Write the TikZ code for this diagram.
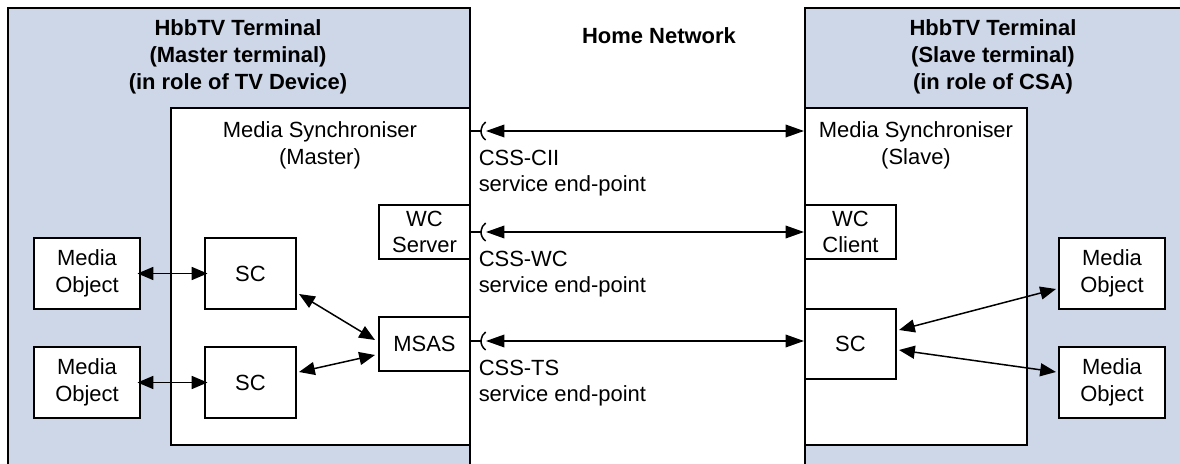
\documentclass[tikz,border=0pt]{standalone}
\usepackage{fontspec}
\setmainfont{Liberation Sans}
\usepackage{tikz}
\usetikzlibrary{calc, positioning, arrows.meta}

\definecolor{termblue}{RGB}{206,215,232}
\newcommand{\dfont}{\fontsize{12.5}{15.2}\selectfont}

\begin{document}
\begin{tikzpicture}[
    x=0.2mm, y=-0.2mm,
    line width=0.3mm,
    font=\dfont
]
    \useasboundingbox (0,0) rectangle (1180,464);

    % Styles: terminals, synchronisers, small blocks
    \tikzset{
        terminal/.style={draw, fill=termblue, line width=0.4mm, inner sep=0pt},
        msync/.style={draw, fill=white, line width=0.4mm, inner sep=0pt},
        block/.style={draw, fill=white, line width=0.4mm, inner sep=0pt, align=center},
        title/.style={font=\dfont\bfseries, align=center},
        biarrow/.style={{Triangle[length=9pt, width=7.4pt]}-{Triangle[length=9pt, width=7.4pt]}},
        netarrow/.style={{Triangle[length=10.5pt, width=7.2pt]}-{Triangle[length=10.5pt, width=7.2pt]}}
    }

    % HbbTV terminals (they run past the page edge)
    \node[terminal, minimum width=92.4mm, minimum height=94.4mm] (TermM) at (239,244) {};
    \node[terminal, minimum width=77mm, minimum height=94.4mm] (TermS) at (997.5,244) {};

    \node[title] (TermM_t) at (238,57) {HbbTV Terminal\\(Master terminal)\\(in role of TV Device)};
    \node[title] (TermS_t) at (993,57) {HbbTV Terminal\\(Slave terminal)\\(in role of CSA)};
    \node[title] (HomeNet) at (659,36) {Home Network};

    % Media Synchronisers
    \node[msync, minimum width=59.8mm, minimum height=67.4mm] (MSM) at (320.5,276.5) {};
    \node[msync, minimum width=44.4mm, minimum height=67.4mm] (MSS) at (916,276.5) {};
    \node[align=center] (MSM_l) at (320,145) {Media Synchroniser\\(Master)};
    \node[align=center] (MSS_l) at (916,145) {Media Synchroniser\\(Slave)};

    % Master side blocks
    \node[block, minimum width=18.2mm, minimum height=10.8mm] (WCS) at (424.5,232) {WC\\Server};
    \node[block, minimum width=18.2mm, minimum height=10.8mm] (MSAS) at (424.5,344) {MSAS};
    \node[block, minimum width=18.2mm, minimum height=14.2mm] (SC_M1) at (250.5,273.5) {SC};
    \node[block, minimum width=18.2mm, minimum height=14.2mm] (SC_M2) at (250.5,382.5) {SC};
    \node[block, minimum width=21.2mm, minimum height=14.2mm] (MO_M1) at (87,273.5) {Media\\Object};
    \node[block, minimum width=21.2mm, minimum height=14.2mm] (MO_M2) at (87,382.5) {Media\\Object};

    % Slave side blocks
    \node[block, minimum width=18.2mm, minimum height=10.8mm] (WCC) at (850.5,232) {WC\\Client};
    \node[block, minimum width=18.2mm, minimum height=14mm] (SC_S) at (850.5,344) {SC};
    \node[block, minimum width=21.2mm, minimum height=14.2mm] (MO_S1) at (1112,273.5) {Media\\Object};
    \node[block, minimum width=21.2mm, minimum height=14.2mm] (MO_S2) at (1112,382.5) {Media\\Object};

    % Wiring inside the master
    \draw[biarrow] ([xshift=-2]MO_M1.east) -- ([xshift=2]SC_M1.west);
    \draw[biarrow] ([xshift=-2]MO_M2.east) -- ([xshift=2]SC_M2.west);
    \draw[biarrow] ($(SC_M1.south east)+(2,-16)$) -- ($(MSAS.west)+(-3,-4)$);
    \draw[biarrow] ($(SC_M2.east)+(2,-10.5)$) -- ($(MSAS.west)+(-3,11)$);

    % Wiring inside the slave
    \draw[biarrow] ($(SC_S.east)+(2,-14)$) -- ($(MO_S1.west)+(-2,15.5)$);
    \draw[biarrow] ($(SC_S.east)+(2,6)$) -- ($(MO_S2.west)+(-2,-10.5)$);

    % Service end-points on the home network
    \coordinate (CII) at ($(MSM.north east)+(0,24)$);
    \coordinate (WC) at (WCS.east);
    \coordinate (TS) at ($(MSAS.east)+(0,-3)$);

    \foreach \c/\t in {CII/CSS-CII, WC/CSS-WC, TS/CSS-TS}{
        \draw (\c) -- ++(10,0);
        \draw ($(\c)+(21,0)$) ++(125:11) arc[start angle=125, end angle=235, radius=11];
        \draw[netarrow] ($(\c)+(15,0)$) -- (\c -| MSS.west);
        \node[anchor=north west, inner sep=0pt, align=left] (lbl\c) at ($(\c)+(7,18)$) {\t\\service end-point};
    }

\end{tikzpicture}
\end{document}
